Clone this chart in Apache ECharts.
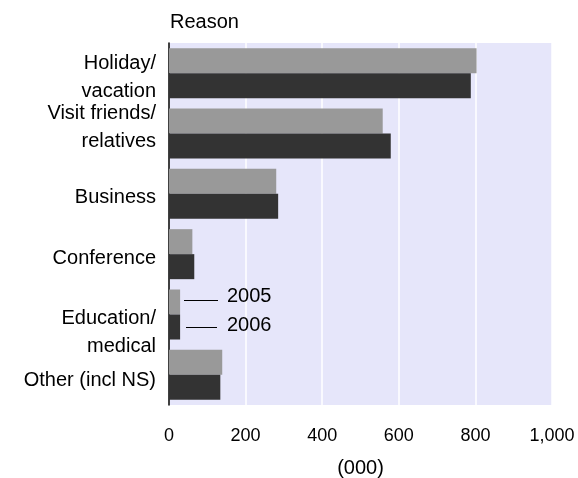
<!DOCTYPE html>
<html><head><meta charset="utf-8">
<script src="https://cdn.jsdelivr.net/npm/echarts@6/dist/echarts.min.js"></script>
<style>html,body{margin:0;padding:0;background:#fff}#c{width:578px;height:478px}</style>
</head><body><div id="c"></div>
<script>
const categories = ["Holiday/\nvacation", "Visit friends/\nrelatives", "Business", "Conference", "Education/\nmedical", "Other (incl NS)"];
const values2005 = [803, 558, 280, 61, 29, 139];
const values2006 = [788, 579, 285, 66, 29, 134];
const seriesNames = ["2005", "2006"];
const xTicks = [0, 200, 400, 600, 800, 1000];

// vertical nudges of the category labels (style only)
const labelShift = [4, -6, 4, 4, 18, 6];

const FONT = '"Liberation Sans", Arial, sans-serif';
const chart = echarts.init(document.getElementById('c'), null, {renderer: 'canvas'});

function labelFormatter(value, index) {
  const d = labelShift[index] || 0;
  let body = value.split('\n').map(l => '{t|' + l + '}').join('\n');
  if (d > 0) body = '{sp' + (2 * d) + '| }\n' + body;
  if (d < 0) body = body + '\n{sp' + (-2 * d) + '| }';
  return body;
}
const rich = {t: {fontFamily: FONT, fontSize: 20, color: '#000', lineHeight: 28, align: 'right'}};
labelShift.forEach(d => {
  const h = Math.abs(2 * d);
  if (h) rich['sp' + h] = {fontSize: 1, lineHeight: h, align: 'right'};
});

chart.setOption({
  animation: false,
  backgroundColor: '#ffffff',
  title: {
    text: 'Reason', left: 170, top: 12, padding: 0,
    textStyle: {fontFamily: FONT, fontSize: 20, fontWeight: 'normal', color: '#000'}
  },
  grid: {left: 169, right: 26, top: 43, bottom: 73, show: true, backgroundColor: '#E6E6FA', borderWidth: 0,
         containLabel: false, outerBoundsMode: 'none'},
  xAxis: {
    type: 'value', min: xTicks[0], max: xTicks[xTicks.length - 1], interval: 200,
    name: '(000)', nameLocation: 'middle', nameGap: 53,
    nameTextStyle: {fontFamily: FONT, fontSize: 20, color: '#000'},
    axisLine: {show: false}, axisTick: {show: false},
    axisLabel: {fontFamily: FONT, fontSize: 18, color: '#000', margin: 22,
      formatter: v => v.toLocaleString('en-US')},
    splitLine: {show: true, lineStyle: {color: '#ffffff', width: 1.5}}
  },
  yAxis: {
    type: 'category', data: categories, inverse: true,
    axisLine: {show: true, lineStyle: {color: '#000', width: 1.5}},
    axisTick: {show: false},
    axisLabel: {interval: 0, hideOverlap: false, fontFamily: FONT, fontSize: 20, color: '#000', margin: 13,
      align: 'right', formatter: labelFormatter, rich: rich},
    splitLine: {show: false}
  },
  series: [
    {name: seriesNames[0], type: 'bar', data: values2005, barWidth: 25, barGap: '0%',
     itemStyle: {color: '#999999'}},
    {name: seriesNames[1], type: 'bar', data: values2006, barWidth: 25, barGap: '0%',
     itemStyle: {color: '#333333'}}
  ],
  graphic: [
    {type: 'line', z: 100, shape: {x1: 184, y1: 300.5, x2: 218, y2: 300.5}, style: {stroke: '#000', lineWidth: 1}},
    {type: 'text', z: 100, left: 227, top: 286, style: {text: seriesNames[0], fontFamily: FONT, fontSize: 20, fill: '#000'}},
    {type: 'line', z: 100, shape: {x1: 186, y1: 327.5, x2: 217, y2: 327.5}, style: {stroke: '#000', lineWidth: 1}},
    {type: 'text', z: 100, left: 227, top: 315, style: {text: seriesNames[1], fontFamily: FONT, fontSize: 20, fill: '#000'}}
  ]
});
</script></body></html>
